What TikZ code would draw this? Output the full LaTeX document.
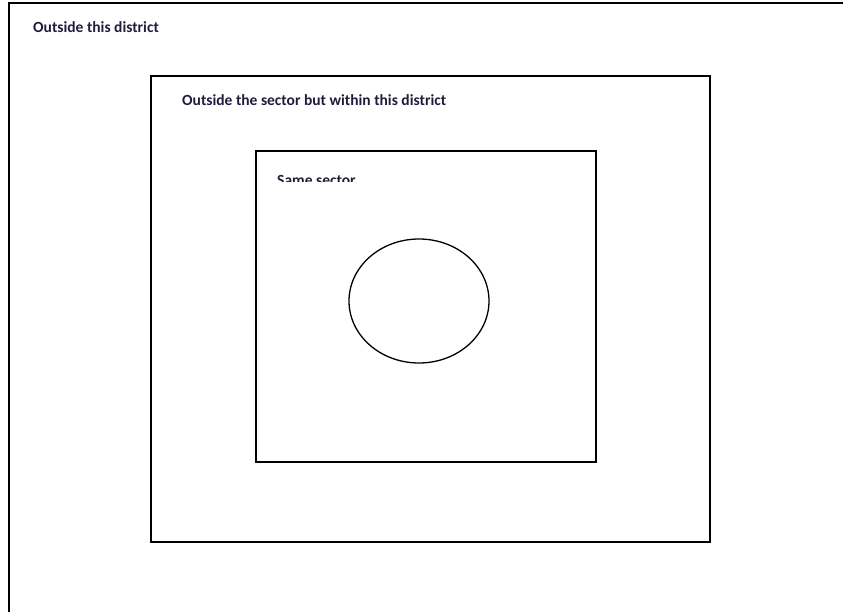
\documentclass[tikz,border=0pt]{standalone}
\usepackage{fontspec}
\setmainfont{Carlito}
\definecolor{txt}{RGB}{30,30,60}
\begin{document}
\begin{tikzpicture}[x=1pt,y=-1pt,
  frame/.style={draw=black,line width=1.6pt},
  lab/.style={anchor=base west,inner sep=0pt,font=\bfseries\fontsize{15.5}{18}\selectfont,text=txt}]
\useasboundingbox (0,0) rectangle (843,612);
\begin{scope}
\clip (0,0) rectangle (843,612);
\draw[frame] (9,3) rectangle (870,640);
\end{scope}
\draw[frame] (151,76) rectangle (710,542);
\draw[frame] (256,151) rectangle (596,462);
\draw[frame,line width=1.3pt] (419,301) ellipse [x radius=70,y radius=62];
\node[lab] (l1) at (33,33) {Outside this district};
\node[lab] (l2) at (182,106) {Outside the sector but within this district};
\begin{scope}
\clip (260,160) rectangle (400,182);
\node[lab] (l3) at (277,186) {Same sector};
\end{scope}
\end{tikzpicture}
\end{document}
